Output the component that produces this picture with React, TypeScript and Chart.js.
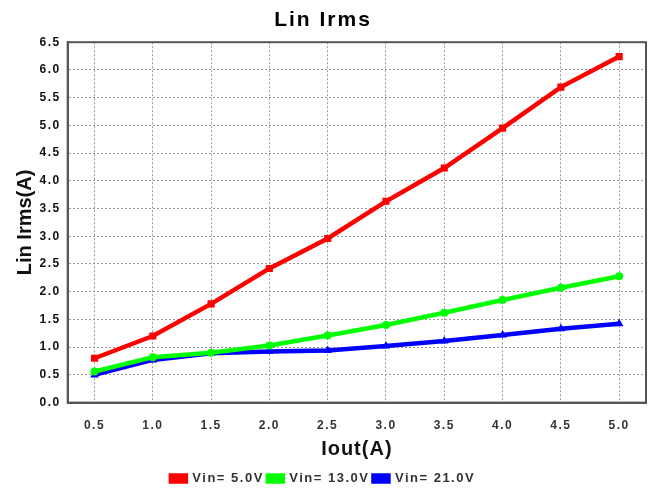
import React, { useEffect, useRef } from "react";
import { Chart, registerables } from "chart.js";

Chart.register(...registerables);

// Data
const iout = [0.5, 1.0, 1.5, 2.0, 2.5, 3.0, 3.5, 4.0, 4.5, 5.0];
const vin5 = [0.8, 1.2, 1.78, 2.42, 2.96, 3.63, 4.23, 4.95, 5.69, 6.24];
const vin13 = [0.56, 0.82, 0.9, 1.03, 1.21, 1.4, 1.62, 1.85, 2.07, 2.28];
const vin21 = [0.5, 0.77, 0.89, 0.92, 0.94, 1.02, 1.11, 1.22, 1.33, 1.42];
const yTicks = [0, 0.5, 1.0, 1.5, 2.0, 2.5, 3.0, 3.5, 4.0, 4.5, 5.0, 5.5, 6.0, 6.5];
const seriesNames = ["Vin= 5.0V", "Vin= 13.0V", "Vin= 21.0V"];
const seriesColors = ["#ff0000", "#00ff00", "#0000ff"];
const seriesMarkers = ["rect", "circle", "triangle"];
const seriesValues = [vin5, vin13, vin21];

const FONT = "'Liberation Sans', Arial, sans-serif";

function wrapSpacing(obj: any, method: string, spacing: string) {
  if (!obj || obj["__wrapped_" + method]) return;
  const orig = obj[method];
  obj[method] = function (...args: any[]) {
    const c = this.ctx;
    const prev = c.letterSpacing;
    c.letterSpacing = spacing;
    const r = orig.apply(this, args);
    c.letterSpacing = prev;
    return r;
  };
  obj["__wrapped_" + method] = true;
}

const framePlugin = {
  id: "frame",
  beforeUpdate(chart: any) {
    chart.ctx.letterSpacing = "1.5px";
  },
  afterLayout(chart: any) {
    const lg = chart.legend;
    if (lg) {
      lg.top += 5;
      lg.bottom += 5;
    }
    wrapSpacing(chart.titleBlock, "draw", "2px");
    wrapSpacing(chart.scales.x, "drawTitle", "1px");
    wrapSpacing(chart.scales.y, "drawTitle", "0px");
  },
  beforeDraw(chart: any) {
    chart.ctx.letterSpacing = "1.5px";
  },
  beforeDatasetsDraw(chart: any) {
    const { ctx, chartArea } = chart;
    ctx.save();
    ctx.strokeStyle = "#555555";
    ctx.lineWidth = 2;
    ctx.strokeRect(chartArea.left, chartArea.top, chartArea.right - chartArea.left, chartArea.bottom - chartArea.top);
    ctx.restore();
  },
};

export default function App() {
  const ref = useRef<HTMLCanvasElement | null>(null);

  useEffect(() => {
    if (!ref.current) return;
    const datasets = seriesValues.map((vals, i) => ({
      label: seriesNames[i],
      data: vals.map((v, j) => ({ x: iout[j], y: v })),
      borderColor: seriesColors[i],
      backgroundColor: seriesColors[i],
      pointBackgroundColor: seriesColors[i],
      pointBorderColor: seriesColors[i],
      pointStyle: seriesMarkers[i] as any,
      pointRadius: i === 1 ? 4 : 5,
      pointBorderWidth: 0,
      borderWidth: 4.5,
      tension: 0,
      fill: false,
    }));

    const chart = new Chart(ref.current, {
      type: "line",
      data: { datasets },
      plugins: [framePlugin],
      options: {
        animation: false,
        responsive: false,
        layout: { padding: { left: 0, right: 8, top: 0, bottom: 0 } },
        plugins: {
          title: {
            display: true,
            text: "Lin Irms",
            color: "#000",
            font: { family: FONT, size: 21, weight: "bold" },
            padding: { top: 8, bottom: 9 },
          },
          legend: {
            display: true,
            position: "bottom",
            labels: {
              boxWidth: 15,
              boxHeight: 6,
              padding: 4,
              color: "#333",
              font: { family: FONT, size: 13, weight: "bold" },
            },
          },
          tooltip: { enabled: false },
        },
        scales: {
          x: {
            type: "linear",
            min: 0.27,
            max: 5.23,
            afterBuildTicks: (scale: any) => {
              scale.ticks = iout.map((v) => ({ value: v }));
            },
            ticks: {
              padding: 16,
              color: "#333",
              font: { family: FONT, size: 12, weight: "bold" },
              callback: (v: any) => Number(v).toFixed(1),
              autoSkip: false,
              maxRotation: 0,
            },
            grid: { color: "#999", lineWidth: 1, drawTicks: false },
            border: { display: true, color: "#555", width: 2, dash: [2, 2] },
            title: {
              display: true,
              text: "Iout(A)",
              color: "#111",
              font: { family: FONT, size: 20, weight: "bold" },
              padding: { top: -12, bottom: 2 },
            },
          },
          y: {
            type: "linear",
            min: 0,
            max: 6.5,
            afterBuildTicks: (scale: any) => {
              scale.ticks = yTicks.map((v) => ({ value: v }));
            },
            ticks: {
              padding: 7,
              color: "#111",
              font: { family: FONT, size: 12, weight: "bold" },
              callback: (v: any) => Number(v).toFixed(1),
              autoSkip: false,
            },
            grid: { color: "#999", lineWidth: 1, drawTicks: false },
            border: { display: true, color: "#555", width: 2, dash: [2, 2] },
            title: {
              display: true,
              text: "Lin Irms(A)",
              color: "#111",
              font: { family: FONT, size: 20, weight: "bold" },
              padding: { top: 13, bottom: -4.5 },
            },
          },
        },
      },
    });
    return () => chart.destroy();
  }, []);

  return (
    <div style={{ position: "absolute", left: 0, top: 0, width: 654, height: 490, background: "#fff" }}>
      <canvas ref={ref} width={654} height={490} />
    </div>
  );
}
